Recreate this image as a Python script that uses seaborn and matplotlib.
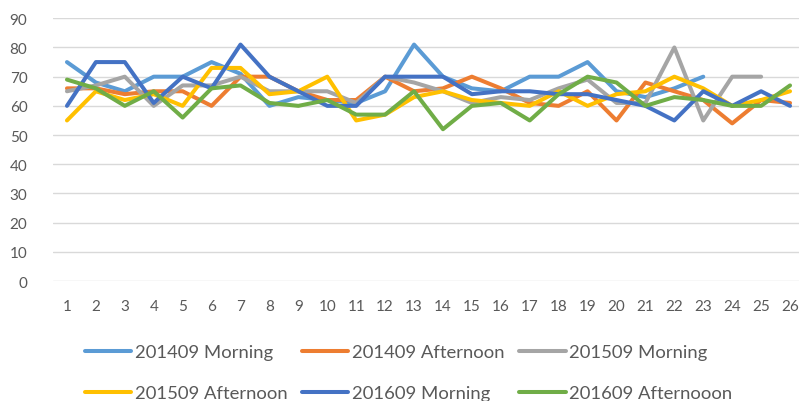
import pandas as pd
import seaborn as sns
import matplotlib.pyplot as plt

days = list(range(1, 27))
series = ["201409 Morning", "201409 Afternoon", "201509 Morning",
          "201509 Afternoon", "201609 Morning", "201609 Afternooon"]

m1409 = [75, 68, 65, 70, 70, 75, 71, 60, 63, 62, 61, 65, 81, 70, 66, 65, 70, 70, 75, 65, 63, 66, 70]
a1409 = [66, 66, 64, 65, 65, 60, 70, 70, 65, 62, 62, 70, 65, 66, 70, 66, 61, 60, 65, 55, 68, 65, 62, 54, 62, 61]
m1509 = [65, 67, 70, 60, 67, 67, 70, 65, 65, 65, 61, 70, 68, 65, 61, 63, 62, 66, 69, 61, 61, 80, 55, 70, 70]
a1509 = [55, 65, 62, 64, 60, 73, 73, 64, 65, 70, 55, 57, 63, 65, 62, 61, 60, 65, 60, 64, 65, 70, 66, 60, 62, 65]
m1609 = [60, 75, 75, 61, 70, 66, 81, 70, 65, 60, 60, 70, 70, 70, 64, 65, 65, 64, 64, 62, 60, 55, 65, 60, 65, 60]
a1609 = [69, 66, 60, 65, 56, 66, 67, 61, 60, 62, 57, 57, 65, 52, 60, 61, 55, 64, 70, 68, 60, 63, 62, 60, 60, 67]

colors = ["#5B9BD5", "#ED7D31", "#A5A5A5", "#FFC000", "#4472C4", "#70AD47"]

rows = []
for name, vals in zip(series, [m1409, a1409, m1509, a1509, m1609, a1609]):
    for d, v in zip(days, vals):
        rows.append((d, v, name))
df = pd.DataFrame(rows, columns=["day", "value", "series"])

sns.set_style("white")
plt.rcParams["font.family"] = ["Lato", "DejaVu Sans"]

fig = plt.figure(figsize=(7.99, 4.02), dpi=100)
ax = fig.add_axes([52.5 / 799, 120 / 402, 752 / 799, 262.7 / 402])

sns.lineplot(data=df, x="day", y="value", hue="series", hue_order=series,
             palette=colors, linewidth=2.9, legend=False, ax=ax)
for ln in ax.get_lines():
    ln.set_solid_joinstyle("round")
    ln.set_solid_capstyle("round")

ax.set_xlim(0.5, 26.5)
ax.set_ylim(0, 90)
ax.set_yticks(range(0, 91, 10))
ax.set_xticks(days)
ax.set_xlabel("")
ax.set_ylabel("")
ax.yaxis.grid(True, color="#D9D9D9", linewidth=1.0)
ax.set_axisbelow(True)
for s in ax.spines.values():
    s.set_visible(False)
ax.tick_params(axis="both", length=0, labelsize=11, labelcolor="#595959")
ax.tick_params(axis="x", pad=13)
ax.tick_params(axis="y", pad=18)

# legend fills row by row in the original; matplotlib fills by column
lines = ax.get_lines()[:6]
order = [0, 3, 1, 4, 2, 5]
fig.legend([lines[i] for i in order], [series[i] for i in order], ncol=3,
           loc="upper left", bbox_to_anchor=(85 / 799, (402 - 345) / 402),
           frameon=False, fontsize=13.3, handlelength=2.5, handletextpad=0.2,
           columnspacing=0.8, labelspacing=1.38, borderpad=0,
           borderaxespad=0, labelcolor="#595959")

fig.savefig("out.png", dpi=100)
